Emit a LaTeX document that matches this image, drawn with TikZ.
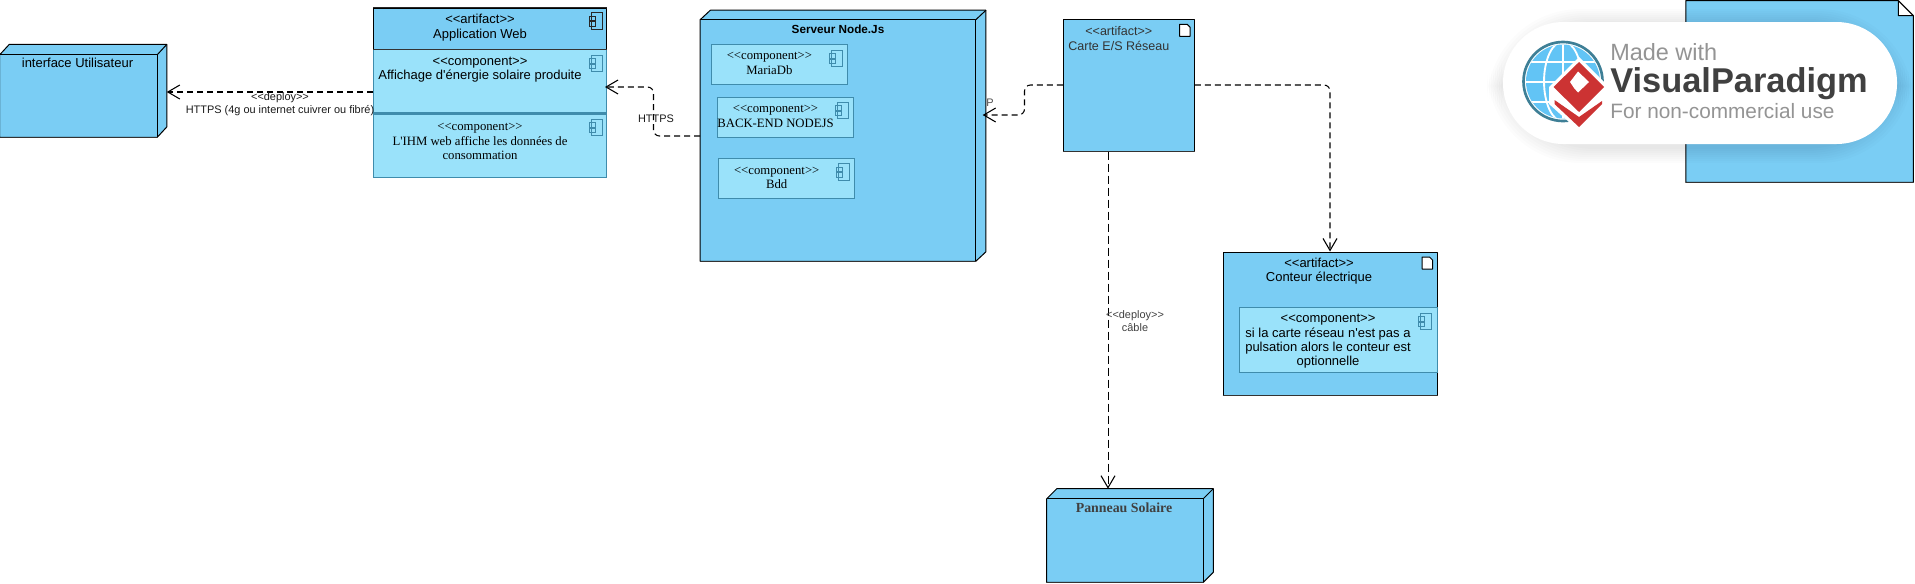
\documentclass[tikz,border=0pt]{standalone}
\usepackage{fontspec}
\usetikzlibrary{positioning,fit,calc,arrows.meta}

\newfontfamily\sansf[Ligatures=TeXOff]{Liberation Sans}
\newfontfamily\seriff[Ligatures=TeXOff]{Liberation Serif}

\definecolor{nodeblue}{HTML}{7ACDF4}
\definecolor{compblue}{HTML}{9AE2FA}
\definecolor{compline}{HTML}{3F8CAC}
\definecolor{vpred}{HTML}{CC3333}
\definecolor{vpring}{HTML}{3E7F96}
\definecolor{vpsky}{HTML}{62C4F5}

\tikzset{
    frame/.style={fit={#1}, inner sep=0pt},
    nodeface/.style={draw=black, fill=nodeblue, line width=.75pt, line join=round},
    compbox/.style={draw=compline, fill=compblue, line width=.75pt},
    bottomedge/.style={line width=1.1pt, draw=black!80},
    txt/.style={align=center, inner sep=0pt, text=black,
        font=\sansf\fontsize{9.75}{10.8}\selectfont},
    txtserif/.style={align=center, inner sep=0pt, text=black,
        font=\seriff\fontsize{9.55}{11}\selectfont},
    edgetxt/.style={align=center, inner sep=0pt, text=black!90,
        font=\sansf\fontsize{8.2}{9.8}\selectfont},
    dep/.style={draw=black, line width=.95pt, dash pattern=on 4.5pt off 3pt,
        rounded corners=4.5pt, -{Straight Barb[length=9pt,width=10.5pt,line width=.8pt]}},
    depthin/.style={draw=black, line width=.55pt, dash pattern=on 6pt off 3pt,
        -{Straight Barb[length=9pt,width=10.5pt,line width=.8pt]}},
    pics/compicon/.style={code={
        \draw[line width=.7pt, draw=#1] (2.5,0) rectangle (13.5,16.5);
        \draw[line width=.7pt, draw=#1] (0,3.5) rectangle (6,8);
        \draw[line width=.7pt, draw=#1] (0,9) rectangle (6,13.5);
    }},
    pics/docicon/.style={code={
        \draw[line width=.75pt, fill=white, line join=round]
            (0,0) -- (7.5,0) -- (10.5,3) -- (10.5,12) -- (0,12) -- cycle;
    }},
}

\begin{document}
\begin{tikzpicture}[x=.75pt, y=-.75pt]

    \useasboundingbox (0,0) rectangle (1915,583);

    % Outer extent of every box, the 3D ones with their depth
    \node[frame={(0,44.7)(166.5,137)}] (UI) {};
    \node[frame={(700.4,10.5)(985.7,261)}] (Srv) {};
    \node[frame={(1047,489)(1213,582)}] (Pan) {};

    \foreach \n/\dx/\dy in {UI/9.5/10.3, Srv/10.2/9.5, Pan/10/10} {
        \draw[nodeface] (\n.south west) -- ($(\n.north west)+(0,\dy)$)
            -- ($(\n.north west)+(\dx,0)$) -- (\n.north east)
            -- ($(\n.south east)+(0,-\dy)$) -- ($(\n.south east)+(-\dx,0)$) -- cycle;
        \draw[nodeface, fill=none] ($(\n.north west)+(0,\dy)$)
            -| ($(\n.south east)+(-\dx,0)$);
        \draw[nodeface, fill=none] ($(\n.north east)+(-\dx,\dy)$) -- (\n.north east);
        \draw[bottomedge] (\n.south west) -- ($(\n.south east)+(-\dx,0)$);
    }

    % Application Web
    \node[frame={(373.5,8)(606.5,49)}, nodeface] (AppHead) {};
    \node[frame={(373.5,49)(606.5,112.5)}, compbox] (AppC1) {};
    \node[frame={(373.5,114)(606.5,177)}, compbox] (AppC2) {};
    \draw[bottomedge, line width=1pt, draw=black!85] (AppHead.north west) -- (AppHead.north east);

    % Serveur Node.Js
    \node[frame={(711.4,44)(847.3,84)}, compbox] (Maria) {};
    \node[frame={(717.6,97)(853.5,137)}, compbox] (Back) {};
    \node[frame={(718.4,158)(854.3,198)}, compbox] (Bdd) {};

    % Artifacts
    \node[frame={(1063.3,19.5)(1194.3,151)}, nodeface] (Carte) {};
    \node[frame={(1223,252)(1437,395)}, nodeface] (Cont) {};
    \node[frame={(1239,307)(1437,372)}, compbox] (ContC) {};
    \node[frame={(1686,1)(1913,182)}] (Doc) {};
    \draw[nodeface] (Doc.south west) -- (Doc.north west)
        -- ($(Doc.north east)+(-15,0)$) -- ($(Doc.north east)+(0,15)$)
        -- (Doc.south east) -- cycle;
    \draw[nodeface, fill=white] ($(Doc.north east)+(-15,0)$)
        -- ($(Doc.north east)+(-15,15)$) -- ($(Doc.north east)+(0,15)$) -- cycle;

    \foreach \n in {Carte,Cont,Doc,AppHead}
        \draw[bottomedge] (\n.south west) -- (\n.south east);
    \foreach \n in {AppC1,AppC2,ContC}
        \draw[compline, line width=1.1pt] (\n.south west) -- (\n.south east);

    % Icons
    \pic at (589,12.7) {compicon=black!85};
    \pic at (589,55) {compicon=compline};
    \pic at (589,119) {compicon=compline};
    \pic at (829,50) {compicon=compline};
    \pic at (835,102) {compicon=compline};
    \pic at (836,163.5) {compicon=compline};
    \pic at (1418,313) {compicon=compline};
    \pic at (1179.6,24.3) {docicon};
    \pic at (1422,257) {docicon};

    % Texts
    \node[txt] (UIlab) at (77.5,63) {interface Utilisateur};
    \node[txt] (AppLab) at (480,27.5) {<<artifact>>\\Application Web};
    \node[txt] (C1Lab) at (480,69.5) {<<component>>\\Affichage d'énergie solaire produite};
    \node[txtserif] (C2Lab) at (480,141.5)
        {<<component>>\\L'IHM web affiche les données de\\consommation};
    \node[txt, font=\sansf\bfseries\fontsize{8.8}{10.6}\selectfont] (SrvLab) at (838,29) {Serveur Node.Js};
    \node[txtserif] (MariaLab) at (769.4,63.5) {<<component>>\\MariaDb};
    \node[txtserif] (BackLab) at (775.5,116.5) {<<component>>\\BACK-END NODEJS};
    \node[txtserif] (BddLab) at (776.7,178) {<<component>>\\Bdd};
    \node[txt, text=black!80, font=\sansf\fontsize{9.4}{10.8}\selectfont]
        (CarteLab) at (1118.8,38.5) {<<artifact>>\\Carte E/S Réseau};
    \node[txt] (ContLab) at (1319,271) {<<artifact>>\\Conteur électrique};
    \node[txt] (ContCLab) at (1328,341.5)
        {<<component>>\\si la carte réseau n'est pas a\\pulsation alors le conteur est\\optionnelle};
    \node[txtserif, text=black!75, font=\seriff\bfseries\fontsize{10.4}{12}\selectfont]
        (PanLab) at (1124,508) {Panneau Solaire};

    % Connectors
    \coordinate (K1) at (653.5,87);
    \coordinate (K2) at (653.5,136);
    \coordinate (K3) at (1024.5,85);
    \coordinate (K4) at (1024.5,115);
    \coordinate (K5) at (1330,85);
    \coordinate (K6) at (1108,300);

    \draw[dep] (AppC1.west |- 0,92) -- (UI.east |- 0,92);
    \draw[dep, line width=.8pt, shorten >=-1.5pt] (Srv.west |- K2) -- (K2) -- (K1) -- (AppC1.east |- K1);
    \draw[dep, line width=.8pt, shorten >=-2.5pt] (Carte.west |- K3) -- (K3) -- (K4) -- (Srv.east |- K4);
    \draw[dep, line width=.8pt] (Carte.east |- K5) -- (K5) -- (Cont.north);
    \draw[depthin] (K6 |- Carte.south) -- (K6 |- Pan.north);

    \node[edgetxt] (DepA) at (280,104) {<<deploy>>\\HTTPS (4g ou internet cuivrer ou fibré)};
    \node[edgetxt] (HttpsLab) at (656,119) {HTTPS};
    \node[edgetxt, text=black!70] (PLab) at (990,103) {P};
    \node[edgetxt, text=black!75] (DepB) at (1135,321.5) {<<deploy>>\\câble};

    % Badge
    \foreach \s in {2,4,...,16}
        \fill[black, opacity=.012, rounded corners=70pt]
            (1503-\s,22-\s+3) rectangle (1897+\s,144+\s+3);
    \node[frame={(1503,22)(1897,144)}, fill=white, rounded corners=45.5pt] (Badge) {};

    \fill[vpsky] (1563,81.5) circle (37);
    \begin{scope}
        \clip (1563,81.5) circle (37);
        \foreach \y in {62,82,102}
            \draw[white, line width=1.4pt] (1520,\y) -- (1606,\y);
        \draw[white, line width=1.4pt] (1563,40) -- (1563,123);
        \draw[white, line width=1.4pt] (1563,81.5) ellipse (19 and 40);
    \end{scope}
    \draw[vpring, line width=2pt] (1563,81.5) circle (39.5);

    \fill[white] (1579,57) -- (1609,87) -- (1609,104) -- (1579,131) -- (1549,104) -- (1549,87) -- cycle;
    \fill[vpred] (1579,62) -- (1604,87) -- (1579,112) -- (1553.5,87) -- cycle;
    \fill[vpred] (1554.5,100) -- (1579,117) -- (1602,101) -- (1602,104) -- (1579,127) -- (1554.5,104) -- cycle;
    \fill[white] (1578,71.5) -- (1589,82) -- (1578,92.5) -- (1574,88) -- (1570,82) -- cycle;

    \node[anchor=base west, inner sep=0pt, text=black!42, font=\sansf\fontsize{17.6}{18}\selectfont]
        (VPa) at (1610,60) {Made with};
    \node[anchor=base west, inner sep=0pt, text=black!75, font=\sansf\bfseries\fontsize{25.8}{28}\selectfont]
        (VPb) at (1610,92) {VisualParadigm};
    \node[anchor=base west, inner sep=0pt, text=black!42, font=\sansf\fontsize{15.6}{18}\selectfont]
        (VPc) at (1610,118) {For non-commercial use};

\end{tikzpicture}
\end{document}
